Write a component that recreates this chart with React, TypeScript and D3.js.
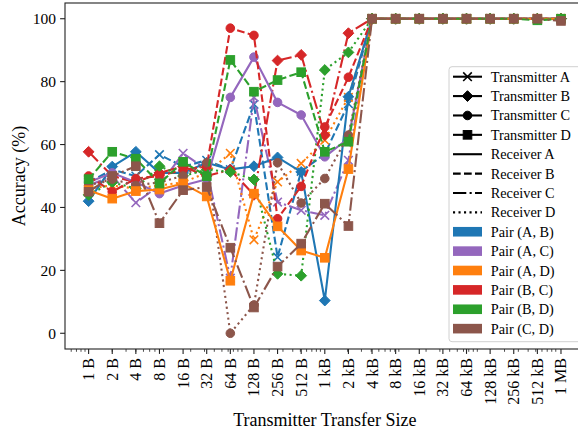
import React from "react";
import * as d3 from "d3";

// ---------------- data ----------------
const categories = [
  "1 B", "2 B", "4 B", "8 B", "16 B", "32 B", "64 B", "128 B", "256 B", "512 B",
  "1 kB", "2 kB", "4 kB", "8 kB", "16 kB", "32 kB", "64 kB", "128 kB", "256 kB", "512 kB", "1 MB",
];
const byteSizes = [
  1, 2, 4, 8, 16, 32, 64, 128, 256, 512, 1024, 2048, 4096, 8192, 16384, 32768,
  65536, 131072, 262144, 524288, 1048576,
];
const yTicks = [0, 20, 40, 60, 80, 100];

// Transmitter X / Receiver Y  (accuracy %)
const txA_rxB = [48, 52, 50, 56.8, 53, 55, 52, 72.8, 24.2, 51.5, 57, 73, 100, 100, 100, 100, 100, 100, 100, 100, 100];
const txA_rxC = [47, 50, 41.5, 47, 57.2, 52, 17.5, 75, 41.7, 39.1, 37.5, 55, 100, 100, 100, 100, 100, 100, 100, 100, 100];
const txA_rxD = [46, 47, 46, 47, 48, 51, 57.2, 29.7, 48.1, 54, 61.4, 75, 100, 100, 100, 100, 100, 100, 100, 100, 100];
const txB_rxA = [42, 53, 57.7, 51, 51, 54.2, 52.1, 53.1, 55.9, 51.3, 10.4, 75.2, 100, 100, 100, 100, 100, 100, 100, 100, 100];
const txB_rxC = [57.7, 50, 48, 51, 53, 50, 52, 44, 86.7, 88.5, 63, 95.4, 100, 100, 100, 100, 100, 100, 100, 100, 100];
const txB_rxD = [44, 48, 46, 53.1, 50, 52, 51.3, 48.9, 18.9, 18.3, 83.7, 89.3, 100, 100, 100, 100, 100, 100, 100, 100, 100];
const txC_rxA = [48, 51, 48, 44.4, 47, 49, 75.0, 87.8, 73.4, 69.4, 56.1, 62, 100, 100, 100, 100, 100, 100, 100, 100, 100];
const txC_rxB = [50, 45, 49.2, 50, 52, 53, 97.0, 94.7, 36.4, 46.7, 65.6, 81.4, 100, 100, 100, 100, 100, 100, 100, 100, 100];
const txC_rxD = [47, 49, 47, 48, 50, 54.2, 0, 9, 54.2, 41.4, 49.2, 63, 100, 100, 100, 100, 100, 100, 100, 100, 100];
const txD_rxA = [45.5, 42.8, 45.2, 45.7, 47.6, 43.5, 16.7, 44.4, 34.0, 26.3, 24.0, 52.2, 100, 100, 100, 100, 100, 100, 100, 100, 100];
const txD_rxB = [49, 57.7, 55.5, 47.6, 54.5, 49.9, 86.9, 76.8, 80.5, 83.0, 57.7, 60.9, 100, 100, 100, 100, 100, 100, 100, 99.5, 100];
const txD_rxC = [45, 50, 53.1, 35.0, 45.5, 46.5, 27.2, 8.2, 21.2, 28.5, 41.2, 34.1, 100, 100, 100, 100, 100, 100, 100, 100, 99.3];

const pairNames = ["Pair (A, B)", "Pair (A, C)", "Pair (A, D)", "Pair (B, C)", "Pair (B, D)", "Pair (C, D)"];
const pairColors = ["#1f77b4", "#9467bd", "#ff7f0e", "#d62728", "#2ca02c", "#8c564b"];
const transmitters = ["A", "B", "C", "D"];
const receivers = ["A", "B", "C", "D"];

// ---------------- styles ----------------
const markerFor: Record<string, string> = { A: "x", B: "D", C: "o", D: "s" };
const LW = 2.1;
const dashFor: Record<string, string | undefined> = {
  A: undefined,
  B: "7.7,3.3",
  C: "13.3,3.3,2.1,3.3",
  D: "2.1,3.4",
};

const series = [
  { tx: "A", rx: "B", values: txA_rxB, pair: 0 },
  { tx: "A", rx: "C", values: txA_rxC, pair: 1 },
  { tx: "A", rx: "D", values: txA_rxD, pair: 2 },
  { tx: "B", rx: "A", values: txB_rxA, pair: 0 },
  { tx: "B", rx: "C", values: txB_rxC, pair: 3 },
  { tx: "B", rx: "D", values: txB_rxD, pair: 4 },
  { tx: "C", rx: "A", values: txC_rxA, pair: 1 },
  { tx: "C", rx: "B", values: txC_rxB, pair: 3 },
  { tx: "C", rx: "D", values: txC_rxD, pair: 5 },
  { tx: "D", rx: "A", values: txD_rxA, pair: 2 },
  { tx: "D", rx: "B", values: txD_rxB, pair: 4 },
  { tx: "D", rx: "C", values: txD_rxC, pair: 5 },
];

const W = 578;
const H = 432;
const left = 65;
const right = 584.6;
const top = 3;
const bottom = 349;
const FONT = "'Liberation Serif', 'Times New Roman', serif";

function Marker({ type, x, y, color }: { type: string; x: number; y: number; color: string }) {
  if (type === "o") return <circle cx={x} cy={y} r={4.3} fill={color} stroke={color} strokeWidth={1} />;
  if (type === "s")
    return <rect x={x - 4.3} y={y - 4.3} width={8.6} height={8.6} fill={color} stroke={color} strokeWidth={1} />;
  if (type === "D") {
    const r = 5.4;
    return (
      <path
        d={`M${x},${y - r}L${x + r},${y}L${x},${y + r}L${x - r},${y}Z`}
        fill={color}
        stroke={color}
        strokeWidth={1}
      />
    );
  }
  const r = 4.3;
  return (
    <path
      d={`M${x - r},${y - r}L${x + r},${y + r}M${x - r},${y + r}L${x + r},${y - r}`}
      stroke={color}
      strokeWidth={1.6}
      fill="none"
    />
  );
}

export default function App() {
  const x = d3.scaleLog().base(2).domain([0.5, 2 ** 21]).range([left, right]);
  const y = d3.scaleLinear().domain([-5, 105]).range([bottom, top]);
  const line = d3
    .line<number>()
    .x((_, i) => x(byteSizes[i]))
    .y((d) => y(d));

  const minorTicks: number[] = [];
  for (let k = -1; k <= 6; k++) {
    for (let d = 2; d <= 9; d++) {
      const v = d * 10 ** k;
      if (v > 0.5 && v < 2 ** 21) minorTicks.push(v);
    }
  }

  // legend
  const lgX = 449;
  const lgY = 66.7;
  const rowH = 19.38;
  const row0 = 76.7;
  const hx0 = 453;
  const hx1 = 482;
  const hxm = (hx0 + hx1) / 2;
  const tx = 490.7;
  const LFS = 14.3;
  const legendRows: any[] = [];
  transmitters.forEach((t, i) => {
    const yy = row0 + i * rowH;
    legendRows.push(
      <g key={"t" + t}>
        <line x1={hx0} x2={hx1} y1={yy} y2={yy} stroke="black" strokeWidth={LW} />
        <Marker type={markerFor[t]} x={hxm} y={yy} color="black" />
        <text x={tx} y={yy} dominantBaseline="central" fontSize={LFS}>{`Transmitter ${t}`}</text>
      </g>
    );
  });
  receivers.forEach((r, i) => {
    const yy = row0 + (i + 4) * rowH;
    legendRows.push(
      <g key={"r" + r}>
        <line x1={hx0} x2={hx1} y1={yy} y2={yy} stroke="black" strokeWidth={LW} strokeDasharray={dashFor[r]} />
        <text x={tx} y={yy} dominantBaseline="central" fontSize={LFS}>{`Receiver ${r}`}</text>
      </g>
    );
  });
  pairNames.forEach((p, i) => {
    const yy = row0 + (i + 8) * rowH;
    legendRows.push(
      <g key={"p" + i}>
        <rect x={hx0} y={yy - 4.8} width={hx1 - hx0} height={9.6} fill={pairColors[i]} />
        <text x={tx} y={yy} dominantBaseline="central" fontSize={LFS}>{p}</text>
      </g>
    );
  });

  return (
    <svg
      width={W}
      height={H}
      style={{ position: "absolute", left: 0, top: 0, background: "white" }}
      fontFamily={FONT}
    >
      <rect x={0} y={0} width={W} height={H} fill="white" />
      <defs>
        <clipPath id="plotclip">
          <rect x={left} y={top} width={right - left} height={bottom - top} />
        </clipPath>
      </defs>

      {/* series */}
      <g clipPath="url(#plotclip)">
        {series.map((s, i) => {
          const color = pairColors[s.pair];
          return (
            <g key={i}>
              <path
                d={line(s.values) || ""}
                fill="none"
                stroke={color}
                strokeWidth={LW}
                strokeDasharray={dashFor[s.rx]}
                strokeLinejoin="round"
              />
              {s.values.map((v, j) => (
                <Marker key={j} type={markerFor[s.tx]} x={x(byteSizes[j])} y={y(v)} color={color} />
              ))}
            </g>
          );
        })}
      </g>

      {/* frame */}
      <rect x={left} y={top} width={right - left} height={bottom - top} fill="none" stroke="#222" strokeWidth={1.1} />

      {/* x ticks */}
      {minorTicks.map((v, i) => (
        <line key={"m" + i} x1={x(v)} x2={x(v)} y1={bottom} y2={bottom + 2.8} stroke="#222" strokeWidth={0.8} />
      ))}
      {byteSizes.map((v, i) => (
        <g key={"M" + i}>
          <line x1={x(v)} x2={x(v)} y1={bottom} y2={bottom + 4.9} stroke="#222" strokeWidth={1.1} />
          <text
            transform={`translate(${x(v)},${bottom + 9}) rotate(-90)`}
            textAnchor="end"
            dominantBaseline="central"
            fontSize={16}
          >
            {categories[i]}
          </text>
        </g>
      ))}

      {/* y ticks */}
      {yTicks.map((v) => (
        <g key={"y" + v}>
          <line x1={left - 4.9} x2={left} y1={y(v)} y2={y(v)} stroke="#222" strokeWidth={1.1} />
          <text x={left - 9} y={y(v)} textAnchor="end" dominantBaseline="central" fontSize={15.5}>
            {v}
          </text>
        </g>
      ))}

      {/* axis labels */}
      <text x={(left + right) / 2} y={426} textAnchor="middle" fontSize={18}>
        Transmitter Transfer Size
      </text>
      <text
        transform={`translate(19,${(top + bottom) / 2}) rotate(-90)`}
        textAnchor="middle"
        dominantBaseline="central"
        fontSize={18}
      >
        Accuracy (%)
      </text>

      {/* legend */}
      <rect x={lgX} y={lgY} width={140} height={275} rx={3} fill="white" fillOpacity={0.85} stroke="#d0d0d0" strokeWidth={1} />
      {legendRows}
    </svg>
  );
}
